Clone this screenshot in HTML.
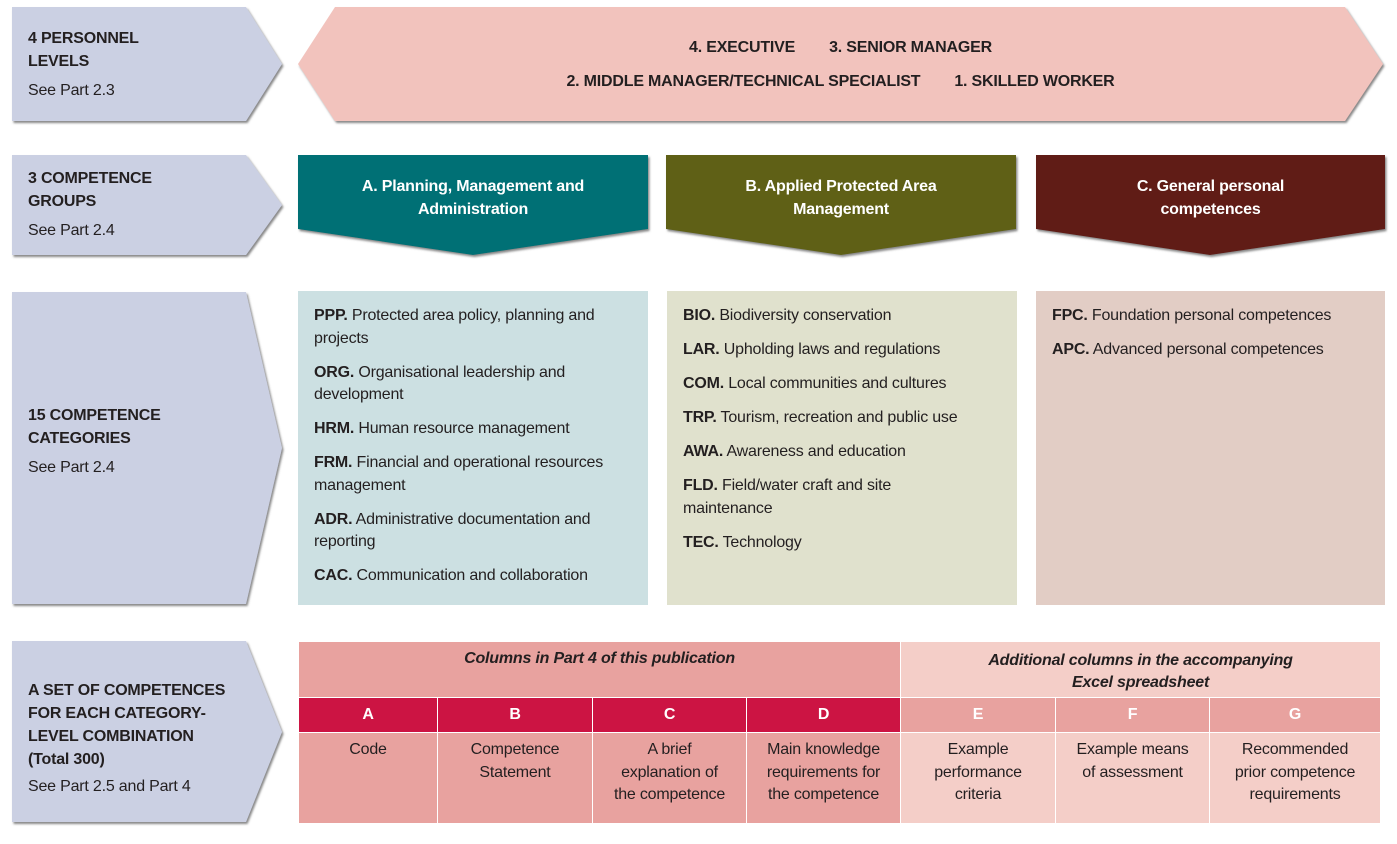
<!DOCTYPE html>
<html><head><meta charset="utf-8"><style>
body{margin:0;width:1397px;height:844px;background:#fff;font-family:"Liberation Sans",Arial,sans-serif;position:relative;overflow:hidden;color:#231f20;letter-spacing:-0.2px}
.a{position:absolute}
.lab{position:absolute;left:28px;font-size:16px;line-height:23px}
.lab b{font-weight:bold}
.lab span{display:block;margin-top:6px}
.cat{position:absolute;font-size:16px;line-height:22.5px;padding:14px 16px 0 16px;box-sizing:border-box}
.cat p{margin:0 0 11.5px 0}
.grp{position:absolute;color:#fff;font-weight:bold;font-size:16px;line-height:23px;text-align:center}
table{position:absolute;left:298px;top:641px;width:1082px;table-layout:fixed;border-collapse:collapse;font-size:16px;text-align:center}
td{border:1px solid #fff;padding:0;vertical-align:top}
</style></head><body>
<svg class="a" style="left:0;top:0" width="1397" height="844">
<defs><filter id="s" x="-5%" y="-5%" width="110%" height="115%"><feDropShadow dx="1.5" dy="2" stdDeviation="1" flood-color="#555" flood-opacity="0.7"/></filter></defs>
<g fill="#cbd0e3" filter="url(#s)">
<polygon points="12,7 246,7 282,64 246,121 12,121"/>
<polygon points="12,155 246,155 282,205 246,255 12,255"/>
<polygon points="12,292 246,292 282,448 246,604 12,604"/>
<polygon points="12,641 246,641 282,732 246,822 12,822"/>
</g>
<polygon filter="url(#s)" fill="#f2c3bd" points="298,64 335,7 1345,7 1383,64 1345,121 335,121"/>
<polygon filter="url(#s)" fill="#006f74" points="298,155 648,155 648,229 473,255 298,229"/>
<polygon filter="url(#s)" fill="#5f6115" points="666,155 1016,155 1016,229 841,255 666,229"/>
<polygon filter="url(#s)" fill="#611d12" points="1036,155 1385,155 1385,229 1210,255 1036,229"/>
</svg>
<div class="lab" style="top:27px"><b>4 PERSONNEL<br>LEVELS</b><span>See Part 2.3</span></div>
<div class="lab" style="top:167px"><b>3 COMPETENCE<br>GROUPS</b><span>See Part 2.4</span></div>
<div class="lab" style="top:404px"><b>15 COMPETENCE<br>CATEGORIES</b><span>See Part 2.4</span></div>
<div class="lab" style="top:679px"><b>A SET OF COMPETENCES<br>FOR EACH CATEGORY-<br>LEVEL COMBINATION<br>(Total 300)</b><span style="margin-top:4px">See Part 2.5 and Part 4</span></div>
<div class="a" style="left:298px;width:1085px;top:31px;text-align:center;font-weight:bold;font-size:16px;line-height:34px">4. EXECUTIVE&nbsp;&nbsp;&nbsp;&nbsp;&nbsp;&nbsp;&nbsp;&nbsp;3. SENIOR MANAGER<br>2. MIDDLE MANAGER/TECHNICAL SPECIALIST&nbsp;&nbsp;&nbsp;&nbsp;&nbsp;&nbsp;&nbsp;&nbsp;1. SKILLED WORKER</div>
<div class="grp" style="left:298px;width:350px;top:175px">A. Planning, Management and<br>Administration</div>
<div class="grp" style="left:666px;width:350px;top:175px">B. Applied Protected Area<br>Management</div>
<div class="grp" style="left:1036px;width:349px;top:175px">C. General personal<br>competences</div>
<div class="cat" style="left:298px;top:291px;width:350px;height:314px;background:#cce0e2">
<p><b>PPP.</b> Protected area policy, planning and projects</p>
<p><b>ORG.</b> Organisational leadership and development</p>
<p><b>HRM.</b> Human resource management</p>
<p><b>FRM.</b> Financial and operational resources management</p>
<p><b>ADR.</b> Administrative documentation and reporting</p>
<p><b>CAC.</b> Communication and collaboration</p></div>
<div class="cat" style="left:667px;top:291px;width:350px;height:314px;background:#e0e1cd">
<p><b>BIO.</b> Biodiversity conservation</p>
<p><b>LAR.</b> Upholding laws and regulations</p>
<p><b>COM.</b> Local communities and cultures</p>
<p><b>TRP.</b> Tourism, recreation and public use</p>
<p><b>AWA.</b> Awareness and education</p>
<p><b>FLD.</b> Field/water craft and site<br>maintenance</p>
<p><b>TEC.</b> Technology</p></div>
<div class="cat" style="left:1036px;top:291px;width:349px;height:314px;background:#e2cdc5">
<p><b>FPC.</b> Foundation personal competences</p>
<p><b>APC.</b> Advanced personal competences</p></div>
<table>
<colgroup><col style="width:139px"><col style="width:155px"><col style="width:154px"><col style="width:154px"><col style="width:155px"><col style="width:154px"><col style="width:171px"></colgroup>
<tr style="height:56px"><td colspan="4" style="background:#e8a29f;font-style:italic;font-weight:bold;padding-top:8px">Columns in Part 4 of this publication</td><td colspan="3" style="background:#f4cec8;font-style:italic;font-weight:bold;padding-top:8px;line-height:22px">Additional columns in the accompanying<br>Excel spreadsheet</td></tr>
<tr style="height:34px;color:#fff;font-weight:bold;line-height:34px"><td style="background:#cc1443;vertical-align:middle">A</td><td style="background:#cc1443;vertical-align:middle">B</td><td style="background:#cc1443;vertical-align:middle">C</td><td style="background:#cc1443;vertical-align:middle">D</td><td style="background:#e8a29f;vertical-align:middle">E</td><td style="background:#e8a29f;vertical-align:middle">F</td><td style="background:#e8a29f;vertical-align:middle">G</td></tr>
<tr style="height:91px;line-height:22.5px"><td style="background:#e8a29f;padding-top:6px">Code</td><td style="background:#e8a29f;padding-top:6px">Competence<br>Statement</td><td style="background:#e8a29f;padding-top:6px">A brief<br>explanation of<br>the competence</td><td style="background:#e8a29f;padding-top:6px">Main knowledge<br>requirements for<br>the competence</td><td style="background:#f4cec8;padding-top:6px">Example<br>performance<br>criteria</td><td style="background:#f4cec8;padding-top:6px">Example means<br>of assessment</td><td style="background:#f4cec8;padding-top:6px">Recommended<br>prior competence<br>requirements</td></tr>
</table>
</body></html>
